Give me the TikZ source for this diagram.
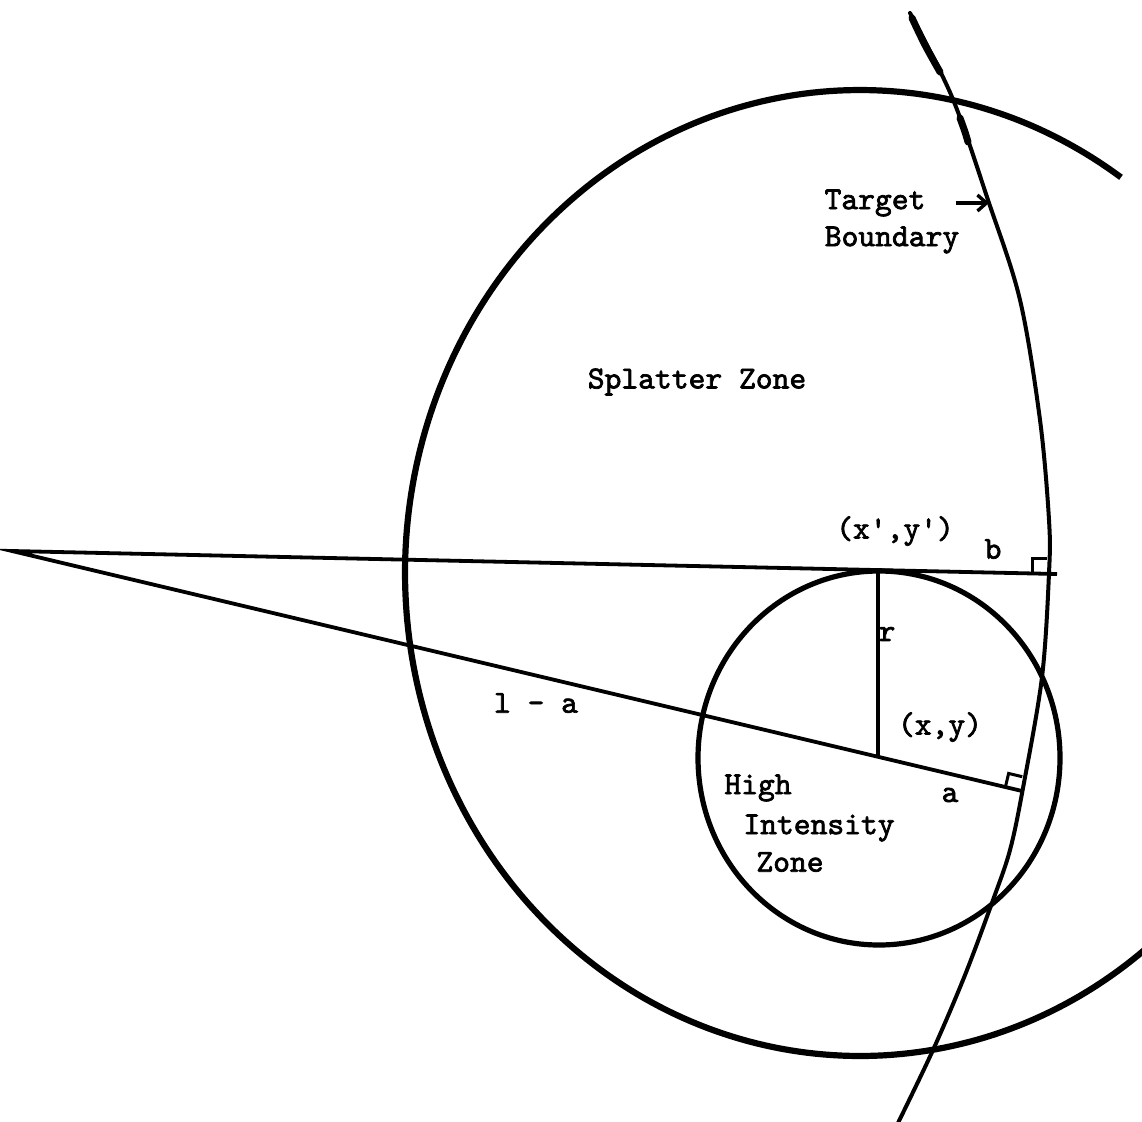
\documentclass[tikz,border=0pt]{standalone}
\usepackage{fontspec}
\newfontfamily\twfont{lmmono10-regular.otf}[FakeBold=2.2]
\usetikzlibrary{calc,arrows.meta}
\begin{document}
\begin{tikzpicture}[x=1pt,y=-1pt,
  lbl/.style={font=\fontsize{32}{36}\selectfont\twfont, inner sep=0pt, anchor=center},
  heavy/.style={line width=6.2pt},
  medium/.style={line width=5.2pt},
  thin/.style={line width=3.8pt},
  bnd/.style={line width=4pt, line cap=round},
  marker/.style={line width=3pt}]
\useasboundingbox (0,0) rectangle (1142,1121);
\fill[white] (0,0) rectangle (1142,1121);
\clip (0,0) rectangle (1142,1121);

% key points
\coordinate (A) at (12,551);
\coordinate (U) at (1057,574);
\coordinate (T) at (878,570);
\coordinate (C) at (878,757);
\coordinate (L) at (1022,791);
\coordinate (Q) at (1019,790.3);
\coordinate (P) at (1047,573.5);
\coordinate (ah) at (989,203);

% splatter zone (large circle)
\draw[heavy] plot[domain=55:313, samples=240] ({860+455*cos(\x)}, {573-483*sin(\x)});

% high intensity zone (small circle)
\draw[medium] (879,758) ellipse [x radius=181, y radius=187];

% lines
\draw[thin, line join=miter] (U) -- (A) -- (L);
\draw[line width=3.2pt] (T) -- (C);

% right-angle markers
\draw[marker] ($(P)+(-15,0)$) -- ++(0,-15) -- ++(15,0);
\draw[marker] ($(Q)!14pt!(A)$) -- ($($(Q)!14pt!(A)$)!14pt!90:(Q)$) -- ($(Q)!14pt!-90:(A)$);

% target boundary
\draw[bnd] plot[smooth, tension=0.55] coordinates {(910,13) (952,97) (988,200) (1020,300) (1040,420) (1049,520) (1049,573) (1042,677) (1023,788) (1010,850) (993,900) (965,975) (933,1050) (897,1125)};
\draw[line width=7pt, line cap=round] plot[smooth, tension=0.55] coordinates {(912,18) (925,45) (940,72)};
\draw[line width=7pt, line cap=round] plot[smooth, tension=0.55] coordinates {(960,118) (965,132) (968,142)};

% labels
\node[lbl] (t1) at (875,203) {Target};
\node[lbl] (t2) at (892,240) {Boundary};
\node[lbl] (sz) at (697,382) {Splatter Zone};
\node[lbl] (xyp) at (895,531) {(x',y')};
\node[lbl] (bl) at (993,549) {b};
\node[lbl] (rl) at (887,634) {r};
\node[lbl] (xy) at (940,727) {(x,y)};
\node[lbl] (la) at (536,703) {l - a};
\node[lbl] (al) at (950,795) {a};
\node[lbl] (hi1) at (758,788) {High};
\node[lbl] (hi2) at (819,828) {Intensity};
\node[lbl] (hi3) at (790,862) {Zone};

\draw[line width=3.4pt, -{Straight Barb[length=9pt,width=16pt]}] ([xshift=30pt]t1.east) -- (ah);
\end{tikzpicture}
\end{document}
